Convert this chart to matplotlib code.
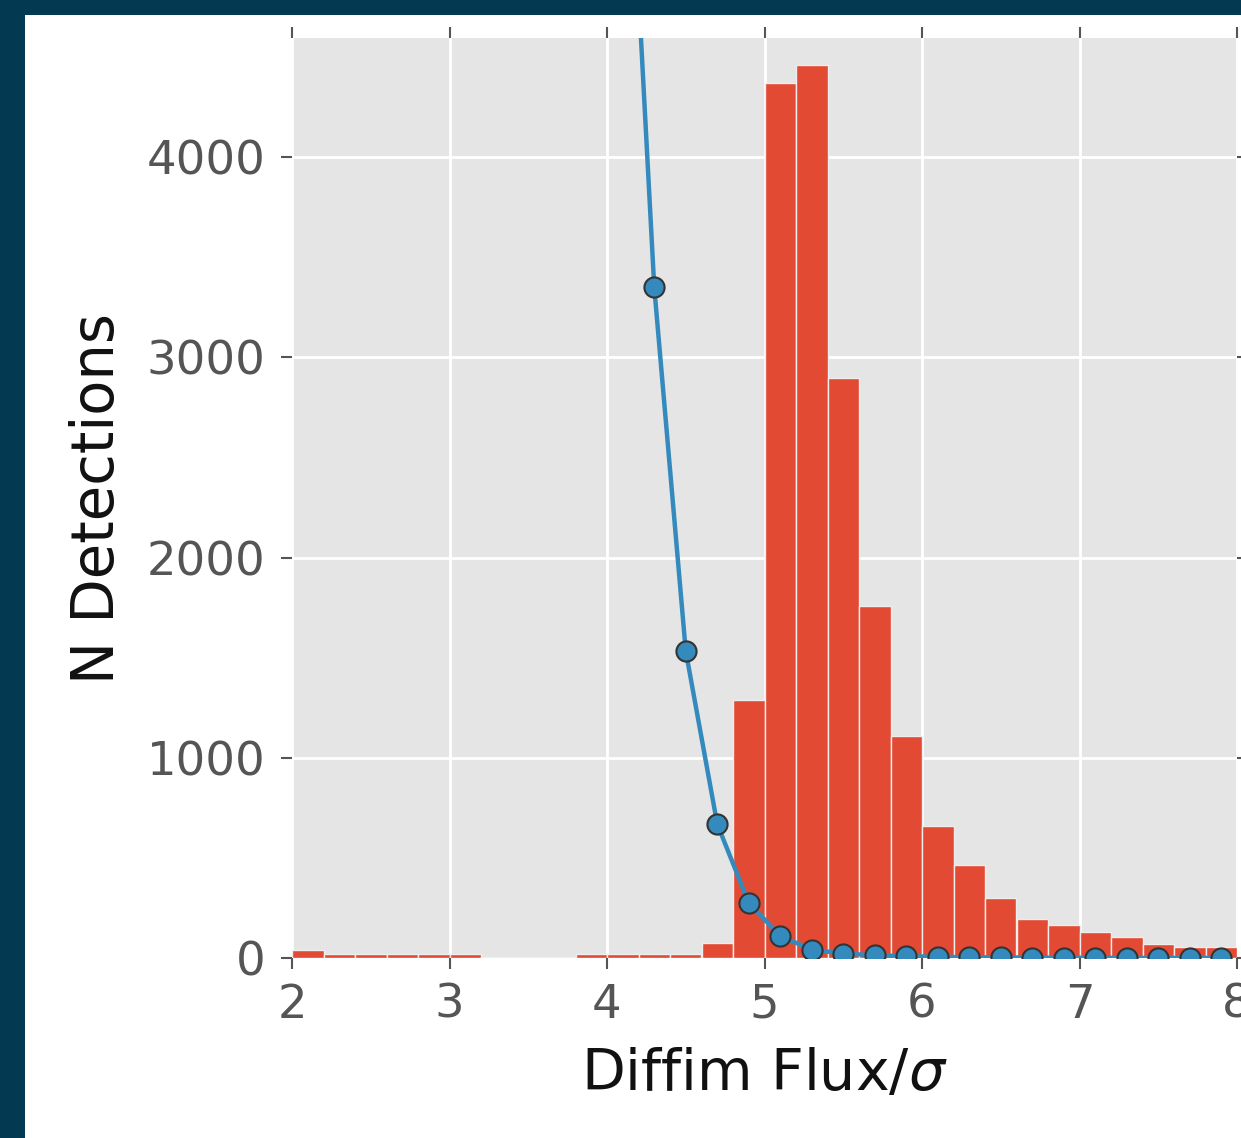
import numpy as np
import matplotlib
matplotlib.use("Agg")
import matplotlib.pyplot as plt
from matplotlib.patches import Rectangle

# ---- data ----
bin_edges = np.round(np.arange(2.0, 8.0001, 0.2), 2)
hist_counts = [38, 18, 18, 18, 18, 18, 6, 6, 6, 18,
               18, 18, 18, 75, 1290, 4370, 4460, 2895, 1758, 1109,
               660, 465, 300, 195, 165, 130, 105, 72, 55, 55]
curve_x = [3.9, 4.1, 4.3, 4.5, 4.7, 4.9, 5.1, 5.3, 5.5, 5.7, 5.9,
           6.1, 6.3, 6.5, 6.7, 6.9, 7.1, 7.3, 7.5, 7.7, 7.9]
curve_y = [12000, 6300, 3350, 1533, 669, 275, 110, 42, 22, 14, 9,
           6, 4, 3, 2, 1, 1, 1, 0, 0, 0]
xticks = [2, 3, 4, 5, 6, 7, 8]
yticks = [0, 1000, 2000, 3000, 4000]

W, H, DPI = 1241, 1138, 100
fig = plt.figure(figsize=(W / DPI, H / DPI), dpi=DPI)
fig.patch.set_facecolor("#033a52")
bg = Rectangle((25 / W, 0), 1 - 25 / W, (H - 15) / H,
               transform=fig.transFigure, facecolor="white",
               edgecolor="none", zorder=-10)
fig.patches.append(bg)

ax = fig.add_axes([292 / W, (H - 958) / H, 945 / W, 920 / H])
ax.set_zorder(1)
ax.set_facecolor("#E5E5E5")
for s in ax.spines.values():
    s.set_visible(False)
ax.set_axisbelow(True)
ax.grid(True, color="white", linewidth=2.0)

widths = np.diff(bin_edges)
ax.bar(bin_edges[:-1], hist_counts, width=widths, align="edge",
       color="#E24A33", edgecolor="#EEEEEE", linewidth=1.0, zorder=2)
ax.plot(curve_x, curve_y, "-o", color="#348ABD", linewidth=3.2,
        markersize=14.5, markerfacecolor="#348ABD", markeredgecolor="#333333",
        markeredgewidth=1.5, zorder=3, clip_on=True)

ax.set_xlim(2, 8)
ax.set_ylim(0, 4595)
ax.set_xticks(xticks)
ax.set_yticks(yticks)
ax.tick_params(axis="both", which="major", direction="out", length=8,
               width=1.5, color="#555555", labelcolor="#555555",
               labelsize=33.5)
ax.tick_params(axis="x", top=True, bottom=True, pad=10)
ax.tick_params(axis="y", left=True, right=True, pad=11)

ax.set_xlabel(r"Diffim Flux/$\sigma$", fontsize=41, color="#111111", labelpad=14)
ax.set_ylabel("N Detections", fontsize=41.5, color="#111111", labelpad=15)

fig.savefig("out.png", dpi=DPI, facecolor=fig.get_facecolor())
